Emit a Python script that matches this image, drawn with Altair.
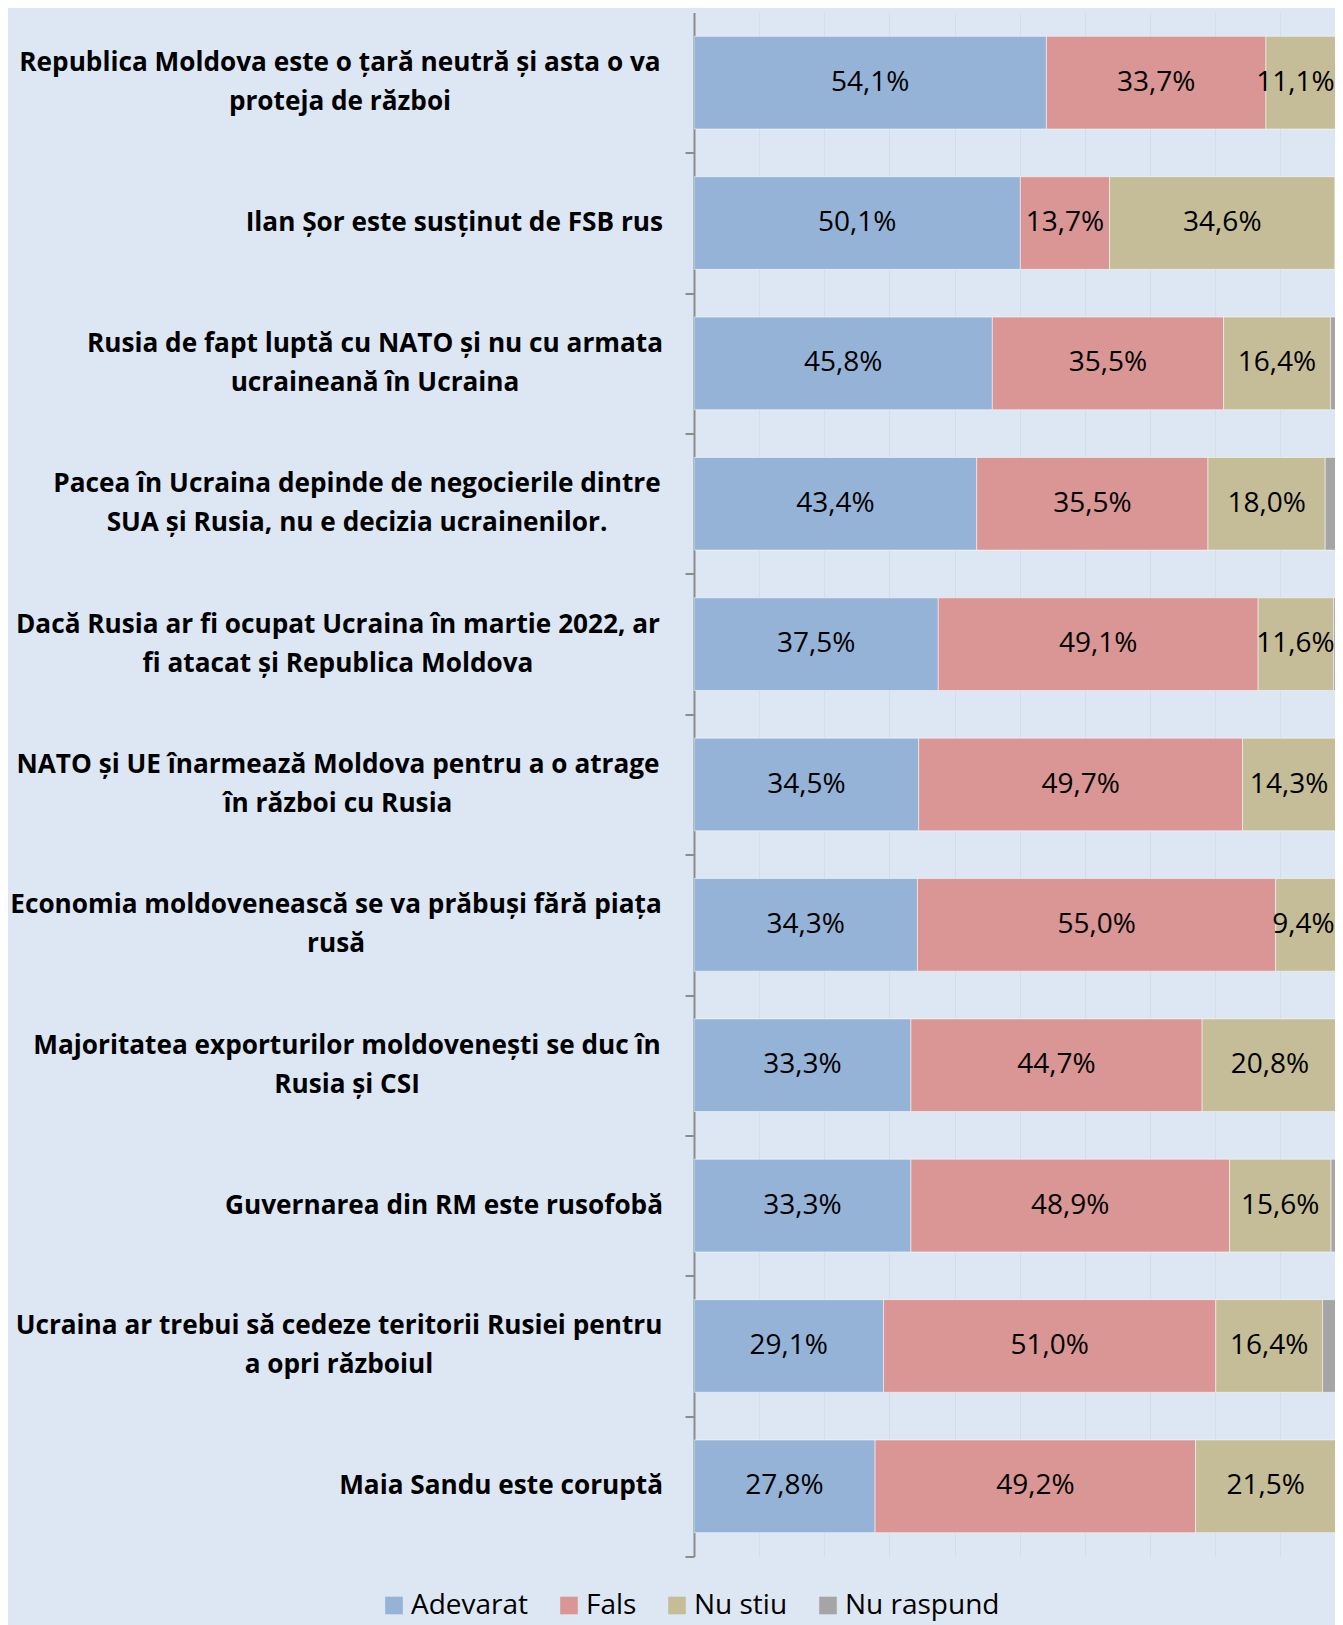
import altair as alt
import pandas as pd

CATEGORIES = [
    "Republica Moldova este o țară neutră și asta o va\nproteja de război",
    "Ilan Șor este susținut de FSB rus",
    "Rusia de fapt luptă cu NATO și nu cu armata\nucraineană în Ucraina",
    "Pacea în Ucraina depinde de negocierile dintre\nSUA și Rusia, nu e decizia ucrainenilor.",
    "Dacă Rusia ar fi ocupat Ucraina în martie 2022, ar\nfi atacat și Republica Moldova",
    "NATO și UE înarmează Moldova pentru a o atrage\nîn război cu Rusia",
    "Economia moldovenească se va prăbuși fără piața\nrusă",
    "Majoritatea exporturilor moldovenești se duc în\nRusia și CSI",
    "Guvernarea din RM este rusofobă",
    "Ucraina ar trebui să cedeze teritorii Rusiei pentru\na opri războiul",
    "Maia Sandu este coruptă",
]
SERIES = ["Adevarat", "Fals", "Nu stiu", "Nu raspund"]
ADEVARAT = [54.1, 50.1, 45.8, 43.4, 37.5, 34.5, 34.3, 33.3, 33.3, 29.1, 27.8]
FALS = [33.7, 13.7, 35.5, 35.5, 49.1, 49.7, 55.0, 44.7, 48.9, 51.0, 49.2]
NU_STIU = [11.1, 34.6, 16.4, 18.0, 11.6, 14.3, 9.4, 20.8, 15.6, 16.4, 21.5]
NU_RASPUND = [1.1, 1.6, 2.3, 3.1, 1.8, 1.5, 1.3, 1.2, 2.2, 3.5, 1.5]

COLORS = ["#95b3d7", "#d99694", "#c4bd97", "#a5a5a5"]
BG = "#dde7f3"
AXIS_GRAY = "#8c8c8c"
FONT = "Open Sans"

# ---- layout / style constants ----
PLOT_W, PLOT_H = 641, 1544
X_VISIBLE_MAX = 98.4          # the original picture is cropped just short of 100 %
PX_PER_PCT = PLOT_W / X_VISIBLE_MAX
VALUE_FS = 28
HALF_CHAR_PX = 7.9            # half of an average value-label glyph width
PAD_INNER = 0.34
STEP = PLOT_H / len(CATEGORIES)
TICK = 9
LABEL_GAP = 22
LINE_H = 39
# half width of the longest line of each two-line (centred) label block
HALF_BLOCK = [323, 0, 288, 306, 325, 325, 327, 316, 0, 324, 0]

rows = []
for i, cat in enumerate(CATEGORIES):
    for j, vals in enumerate([ADEVARAT, FALS, NU_STIU, NU_RASPUND]):
        rows.append({"category": cat, "series": SERIES[j], "order": j, "value": vals[i]})
df = pd.DataFrame(rows)

lab = pd.DataFrame({"idx": list(range(len(CATEGORIES))), "category": CATEGORIES})
lab["multi"] = lab["category"].str.contains("\n")

y_enc = alt.Y(
    "category:N",
    sort=CATEGORIES,
    scale=alt.Scale(paddingInner=PAD_INNER, paddingOuter=PAD_INNER / 2),
    axis=alt.Axis(
        title=None,
        labels=False,
        ticks=True,
        bandPosition=1,
        tickOffset=PAD_INNER * STEP / 2,
        tickSize=TICK,
        tickWidth=2,
        tickColor=AXIS_GRAY,
        domainColor=AXIS_GRAY,
        domainWidth=2,
        grid=False,
    ),
)

base = alt.Chart(df).transform_stack(
    stack="value", groupby=["category"], sort=[alt.SortField("order")], as_=["x0", "x1"]
).transform_calculate(
    lbl="replace(format(datum.value, '.1f'), '.', ',') + '%'"
).transform_calculate(
    # centre of the segment, kept inside the visible (cropped) plot area
    mid=f"min((datum.x0 + datum.x1) / 2, {X_VISIBLE_MAX} - length(datum.lbl) * {HALF_CHAR_PX} / {PX_PER_PCT})"
)

xscale = alt.Scale(domain=[0, X_VISIBLE_MAX], nice=False, zero=True)

bars = base.mark_bar(stroke="white", strokeWidth=1, strokeOpacity=0.5, clip=True).encode(
    x=alt.X(
        "x0:Q",
        scale=xscale,
        axis=alt.Axis(
            values=list(range(0, 100, 10)),
            grid=True,
            gridColor="#d2ddea",
            gridWidth=1,
            labels=False,
            ticks=False,
            domain=False,
            title=None,
        ),
    ),
    x2="x1:Q",
    y=y_enc,
    color=alt.Color(
        "series:N",
        scale=alt.Scale(domain=SERIES, range=COLORS),
        legend=alt.Legend(
            title=None,
            orient="none",
            direction="horizontal",
            legendX=-314,
            legendY=1579,
            symbolType="square",
            symbolSize=310,
            symbolStrokeWidth=0,
            symbolOpacity=1,
            labelFont=FONT,
            labelFontSize=28,
            labelColor="black",
            labelOffset=3,
            columnPadding=26,
            padding=0,
        ),
    ),
)

values = base.transform_filter("datum.series != 'Nu raspund'").mark_text(
    font=FONT, fontSize=VALUE_FS, color="black", baseline="middle"
).encode(
    x=alt.X("mid:Q", scale=xscale, axis=None),
    y=y_enc,
    text="lbl:N",
)

label_style = dict(font=FONT, fontWeight="bold", fontSize=26.2, color="black",
                   baseline="middle", lineBreak="\n", lineHeight=LINE_H)

single_labels = alt.Chart(lab).transform_filter("!datum.multi").mark_text(
    align="right", **label_style
).encode(
    x=alt.value(-(TICK + LABEL_GAP)),
    y=y_enc,
    text="category:N",
)

half_expr = "[" + ",".join(str(h) for h in HALF_BLOCK) + "][datum.idx]"
multi_labels = alt.Chart(lab).transform_filter("datum.multi").transform_calculate(
    lx=f"-({TICK + LABEL_GAP} + {half_expr})"
).mark_text(align="center", dy=-LINE_H / 2, **label_style).encode(
    x=alt.X("lx:Q", scale=None, axis=None),
    y=y_enc,
    text="category:N",
)

chart = alt.layer(bars, values, single_labels, multi_labels).resolve_scale(
    x="independent"
).properties(
    width=PLOT_W,
    height=PLOT_H,
    background=BG,
    padding={"left": 686, "top": 4.5, "right": 0, "bottom": 72},
    autosize=alt.AutoSizeParams(type="none"),
).configure_view(stroke=None)

chart.save("out.html", embed_options={"renderer": "svg", "actions": False})
